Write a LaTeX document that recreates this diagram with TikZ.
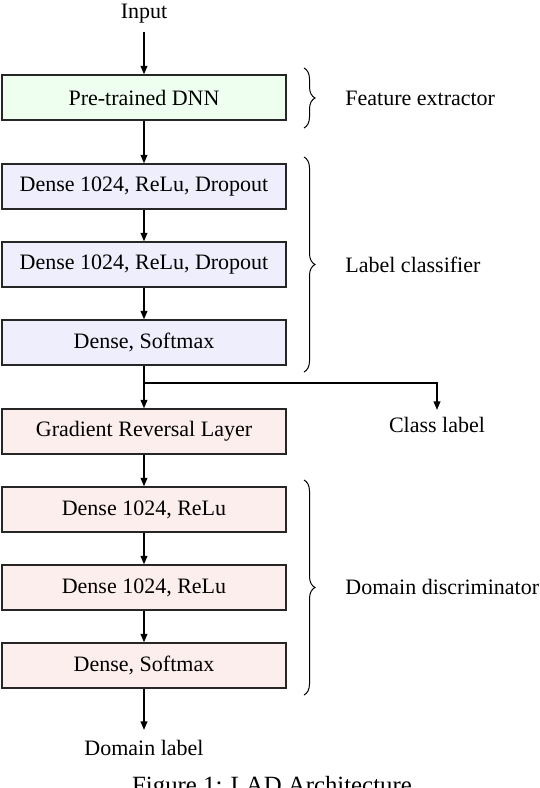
\documentclass[tikz,border=0pt]{standalone}
\usepackage{fontspec}
\setmainfont{Liberation Serif}
\usetikzlibrary{arrows.meta,decorations.pathreplacing}
\definecolor{fgreen}{HTML}{EFFFEF}
\definecolor{fblue}{HTML}{EEEEFD}
\definecolor{fred}{HTML}{FDEEEE}
\begin{document}
\begin{tikzpicture}[x=0.5pt,y=-0.5pt,
  every node/.style={font=\fontsize{11pt}{13pt}\selectfont, inner sep=0pt},
  layer/.style={draw=black!85, line width=0.75pt, minimum width=142pt, minimum height=22.5pt},
  flow/.style={-{Triangle[length=4.2pt,width=3.4pt]}, line width=0.6pt},
  bracegroup/.style={decorate, decoration={brace, amplitude=5.5pt}, line width=0.5pt},
  grouplabel/.style={anchor=west}]
\useasboundingbox (0,0) rectangle (540,788);
\node (in) at (144,14) {Input};
\node[layer, fill=fgreen] (dnn) at (144,97.5) {Pre-trained DNN};
\node[layer, fill=fblue] (c1) at (144,186.5) {Dense 1024, ReLu, Dropout};
\node[layer, fill=fblue] (c2) at (144,264.5) {Dense 1024, ReLu, Dropout};
\node[layer, fill=fblue] (c3) at (144,342.5) {Dense, Softmax};
\node[layer, fill=fred] (grl) at (144,431.5) {Gradient Reversal Layer};
\node[layer, fill=fred] (d1) at (144,509.5) {Dense 1024, ReLu};
\node[layer, fill=fred] (d2) at (144,587.5) {Dense 1024, ReLu};
\node[layer, fill=fred] (d3) at (144,665.5) {Dense, Softmax};
\node (dl) at (144,748) {Domain label};
\node (cl) at (437,425) {Class label};
\coordinate (br) at (144,383);
\coordinate (brr) at (437,383);
\draw[flow] ([yshift=-4pt]in.south) -- (dnn.north);
\draw[flow] (dnn) -- (c1);
\draw[flow] (c1) -- (c2);
\draw[flow] (c2) -- (c3);
\draw[flow] (c3) -- (grl);
\draw[flow] (grl) -- (d1);
\draw[flow] (d1) -- (d2);
\draw[flow] (d2) -- (d3);
\draw[flow] (d3) -- ([yshift=5pt]dl.north);
\draw[flow] (br) -- (brr) -- ([yshift=3.5pt]cl.north);
% braces
\coordinate (b1t) at (304,68); \coordinate (b1b) at (304,128);
\coordinate (b2t) at (304,157); \coordinate (b2b) at (304,372);
\coordinate (b3t) at (304,480); \coordinate (b3b) at (304,695);
\draw[bracegroup] (b1t) -- (b1b);
\draw[bracegroup] (b2t) -- (b2b);
\draw[bracegroup] (b3t) -- (b3b);
\node[grouplabel] (fe) at (345,98) {Feature extractor};
\node[grouplabel] (lc) at (345,265) {Label classifier};
\node[grouplabel] (dd) at (345,587) {Domain discriminator};
\node[anchor=base, font=\fontsize{12.4pt}{14pt}\selectfont] (cap) at (272,793) {Figure 1: LAD Architecture};
\end{tikzpicture}
\end{document}
